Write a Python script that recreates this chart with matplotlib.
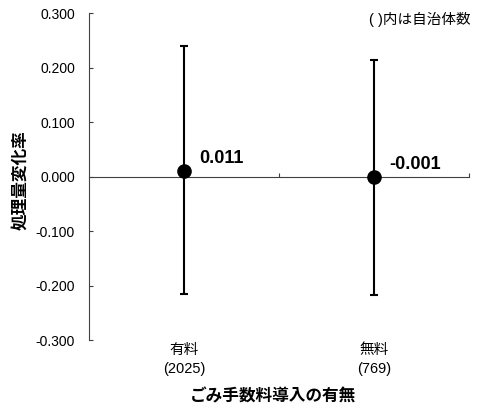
import matplotlib.pyplot as plt
import numpy as np

plt.rcParams['font.family'] = ['Liberation Sans', 'Noto Sans CJK JP', 'DejaVu Sans']

# data
cats = ['有料', '無料']
counts = [2025, 769]
means = [0.011, -0.001]
upper = [0.239, 0.214]
lower = [-0.215, -0.217]
yticks = [-0.3, -0.2, -0.1, 0.0, 0.1, 0.2, 0.3]

fig = plt.figure(figsize=(4.78, 4.07), dpi=100)
ax = fig.add_axes([0.1862, 0.1646, 0.7950, 0.8034])

x = np.arange(len(cats))
m = np.array(means)
yerr = [m - np.array(lower), np.array(upper) - m]
ax.errorbar(x, m, yerr=yerr, fmt='o', color='black', ms=9.5,
            elinewidth=1.5, capsize=3, capthick=1.5, zorder=3)

for xi, v in zip(x, means):
    ax.text(xi + 0.08, v + 0.014, '%.3f' % v, fontsize=13, fontweight='bold',
            ha='left', va='baseline')

ax.set_xlim(-0.5, 1.5)
ax.set_ylim(-0.3, 0.3)
ax.set_yticks(yticks)
ax.set_yticklabels(['%.3f' % t for t in yticks], fontsize=10)
ax.set_xticks([0.5, 1.5])
ax.set_xticklabels([])

for s in ['top', 'right']:
    ax.spines[s].set_visible(False)
ax.spines['bottom'].set_position(('data', 0))
ax.spines['left'].set_color('#404040')
ax.spines['bottom'].set_color('#404040')
ax.tick_params(axis='y', direction='in', length=3, color='#404040', pad=10)
ax.tick_params(axis='x', direction='in', length=3, color='#404040')

# category labels under the axes
for xi, c, n in zip(x, cats, counts):
    ax.text(xi, -0.318, c, fontsize=10.5, ha='center', va='center')
    ax.text(xi, -0.353, '(%d)' % n, fontsize=10.5, ha='center', va='center')

fig.text(0.5711, 0.026, 'ごみ手数料導入の有無', fontsize=12, fontweight='bold',
         ha='center', va='center')
fig.text(0.042, 0.558, '処理量変化率', fontsize=12, fontweight='bold',
         ha='center', va='center', rotation=90)
fig.text(0.985, 0.953, '( )内は自治体数', fontsize=10.5, ha='right', va='center')

fig.savefig('out.png', dpi=100)
